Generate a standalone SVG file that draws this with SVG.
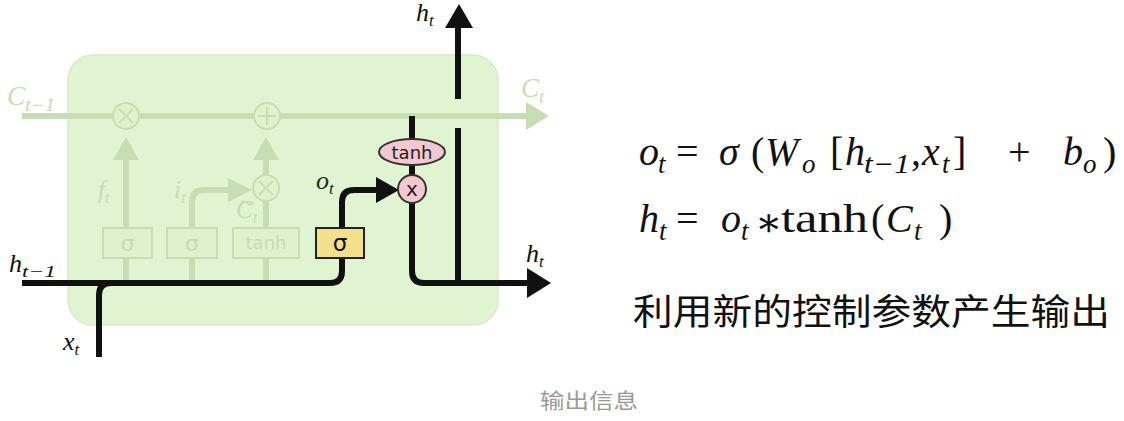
<svg xmlns="http://www.w3.org/2000/svg" width="1124" height="421" viewBox="0 0 1124 421">
<style>
.bk{fill:none;stroke:#111;stroke-width:6;stroke-linecap:butt;stroke-linejoin:round}
.fd{fill:none;stroke:#c7deb5;stroke-width:6}
.fdl{fill:none;stroke:#c7deb5;stroke-width:2}
.fdf{fill:#c7deb5}
.fdc{fill:#ddf2cd;stroke:#c7deb5;stroke-width:2}
.m{font-family:"Liberation Serif","DejaVu Serif",serif;font-style:italic}
.ft{fill:#c7dcb6}
.sans{font-family:"DejaVu Sans","Liberation Sans",sans-serif}
.eq{font-family:"Liberation Serif","DejaVu Serif",serif;font-size:40px;fill:#111}
.it{font-style:italic}
.sb{font-size:27px}
</style>
<rect width="1124" height="421" fill="#fff"/>
<g id="cell">
<rect x="68" y="55" width="430" height="270" rx="25" fill="#e0f4d1" stroke="#d6ecc7" stroke-width="1.5"/>
</g>
<g id="faded">
<path class="fd" d="M22,116 H528"/>
<polygon class="fdf" points="526,102 549,116 526,130"/>
<circle class="fdc" cx="126" cy="116" r="13"/>
<path class="fdl" d="M119,109 L133,123 M133,109 L119,123"/>
<circle class="fdc" cx="267" cy="116" r="13"/>
<path class="fdl" d="M267,107 V125 M258,116 H276"/>
<path class="fd" d="M126,228 V158 M266,228 V201 M266,175 V158 M192,228 V202 Q192,190 204,190 H230 M126,258 V283 M192,258 V283 M266,258 V283"/>
<polygon class="fdf" points="113,160 126,137 139,160"/>
<polygon class="fdf" points="253,160 266,137 279,160"/>
<polygon class="fdf" points="228,178 252,190 228,202"/>
<circle class="fdc" cx="266" cy="188" r="13"/>
<path class="fdl" d="M259,181 L273,195 M273,181 L259,195"/>
<rect class="fdc" x="103" y="228" width="49" height="30"/>
<rect class="fdc" x="167" y="228" width="50" height="30"/>
<rect class="fdc" x="233" y="228" width="66" height="30"/>
<text class="sans ft" x="127.5" y="251" font-size="22" text-anchor="middle">σ</text>
<text class="sans ft" x="192" y="251" font-size="22" text-anchor="middle">σ</text>
<text class="sans ft" x="266" y="249" font-size="18" text-anchor="middle">tanh</text>
<text class="m ft" x="7" y="105" font-size="27">C<tspan font-size="18" dy="6" textLength="30" lengthAdjust="spacingAndGlyphs">t−1</tspan></text>
<text class="m ft" x="521" y="97" font-size="27">C<tspan font-size="18" dy="6">t</tspan></text>
<text class="m ft" x="98" y="198" font-size="25">f<tspan font-size="17" dy="5">t</tspan></text>
<text class="m ft" x="174" y="198" font-size="25">i<tspan font-size="17" dy="5">t</tspan></text>
<text class="m ft" x="236" y="218" font-size="25">C<tspan font-size="17" dy="5">t</tspan></text>
<path class="fdl" d="M241,203 q3,-3 6,0 t6,0"/>
</g>
<g id="connectors">
<path class="bk" d="M22,283 H330 Q342,283 342,271 V258"/>
<path class="bk" d="M99,357 V295 Q99,283 111,283"/>
<path class="bk" d="M342,228 V202 Q342,190 354,190 H380"/>
<polygon fill="#111" points="376,177 399,190 376,203"/>
<path class="bk" d="M412,116 V140 M412,165 V176 M412,203 V271 Q412,283 424,283 H530"/>
<polygon fill="#111" points="527,268 551,283 527,298"/>
<path class="bk" d="M458,286 V128 M458,99 V26"/>
<polygon fill="#111" points="445,28 459,4 473,28"/>
</g>
<g id="sigma_out">
<rect x="316" y="228" width="48" height="30" fill="#f4e08b" stroke="#222" stroke-width="2"/>
<text class="sans" x="340" y="251" font-size="23" text-anchor="middle" fill="#111">σ</text>
</g>
<g id="tanh_out">
<ellipse cx="412" cy="152" rx="33" ry="13" fill="#f3c8d0" stroke="#333" stroke-width="2"/>
<text class="sans" x="412" y="159" font-size="18" text-anchor="middle" fill="#222">tanh</text>
</g>
<g id="mul_out">
<circle cx="412" cy="189" r="14" fill="#f3c8d0" stroke="#333" stroke-width="2"/>
<text class="sans" x="412" y="196" font-size="20" text-anchor="middle" fill="#222">x</text>
</g>
<g id="labels">
<text class="m" x="416" y="21" font-size="26" fill="#111">h<tspan font-size="17" dy="5">t</tspan></text>
<text class="m" x="9" y="272" font-size="26" fill="#111">h<tspan font-size="17" dy="5" textLength="34" lengthAdjust="spacingAndGlyphs">t−1</tspan></text>
<text class="m" x="63" y="350" font-size="26" fill="#111">x<tspan font-size="17" dy="5">t</tspan></text>
<text class="m" x="526" y="262" font-size="26" fill="#111">h<tspan font-size="17" dy="5">t</tspan></text>
<text class="m" x="316" y="189" font-size="26" fill="#1a2a1a">o<tspan font-size="17" dy="5">t</tspan></text>
</g>
<g id="equations">
<text class="eq it" x="639" y="165">o</text>
<text class="eq it sb" x="658" y="173">t</text>
<text class="eq" x="676" y="165">=</text>
<text class="eq it" x="719" y="165">σ</text>
<text class="eq" x="751" y="165">(</text>
<text class="eq it" x="765" y="165">W</text>
<text class="eq it sb" x="802" y="173">o</text>
<text class="eq" x="830" y="165">[</text>
<text class="eq it" x="845" y="165">h</text>
<text class="eq it sb" x="864" y="173" textLength="46" lengthAdjust="spacingAndGlyphs">t−1</text>
<text class="eq" x="911" y="165">,</text>
<text class="eq it" x="922" y="165">x</text>
<text class="eq it sb" x="942" y="173">t</text>
<text class="eq" x="953" y="165">]</text>
<text class="eq" x="1008" y="165">+</text>
<text class="eq it" x="1063" y="165">b</text>
<text class="eq it sb" x="1083" y="173">o</text>
<text class="eq" x="1103" y="165">)</text>
<text class="eq it" x="639" y="232">h</text>
<text class="eq it sb" x="659" y="240">t</text>
<text class="eq" x="676" y="232">=</text>
<text class="eq it" x="721" y="232">o</text>
<text class="eq it sb" x="741" y="240">t</text>
<text class="eq" x="755" y="236">∗</text>
<text class="eq" x="781" y="232" textLength="87" lengthAdjust="spacingAndGlyphs">tanh</text>
<text class="eq" x="871" y="232">(</text>
<text class="eq it" x="886" y="232">C</text>
<text class="eq it sb" x="914" y="240">t</text>
<text class="eq" x="939" y="232">)</text>
<text x="633" y="325" font-family="'Noto Sans CJK SC',sans-serif" font-size="36" textLength="477" lengthAdjust="spacingAndGlyphs" fill="#111">利用新的控制参数产生输出</text>
</g>
<g id="caption">
<text x="540" y="408" font-family="'Noto Sans CJK SC',sans-serif" font-size="21" textLength="98" lengthAdjust="spacingAndGlyphs" fill="#999">输出信息</text>
</g>
</svg>
